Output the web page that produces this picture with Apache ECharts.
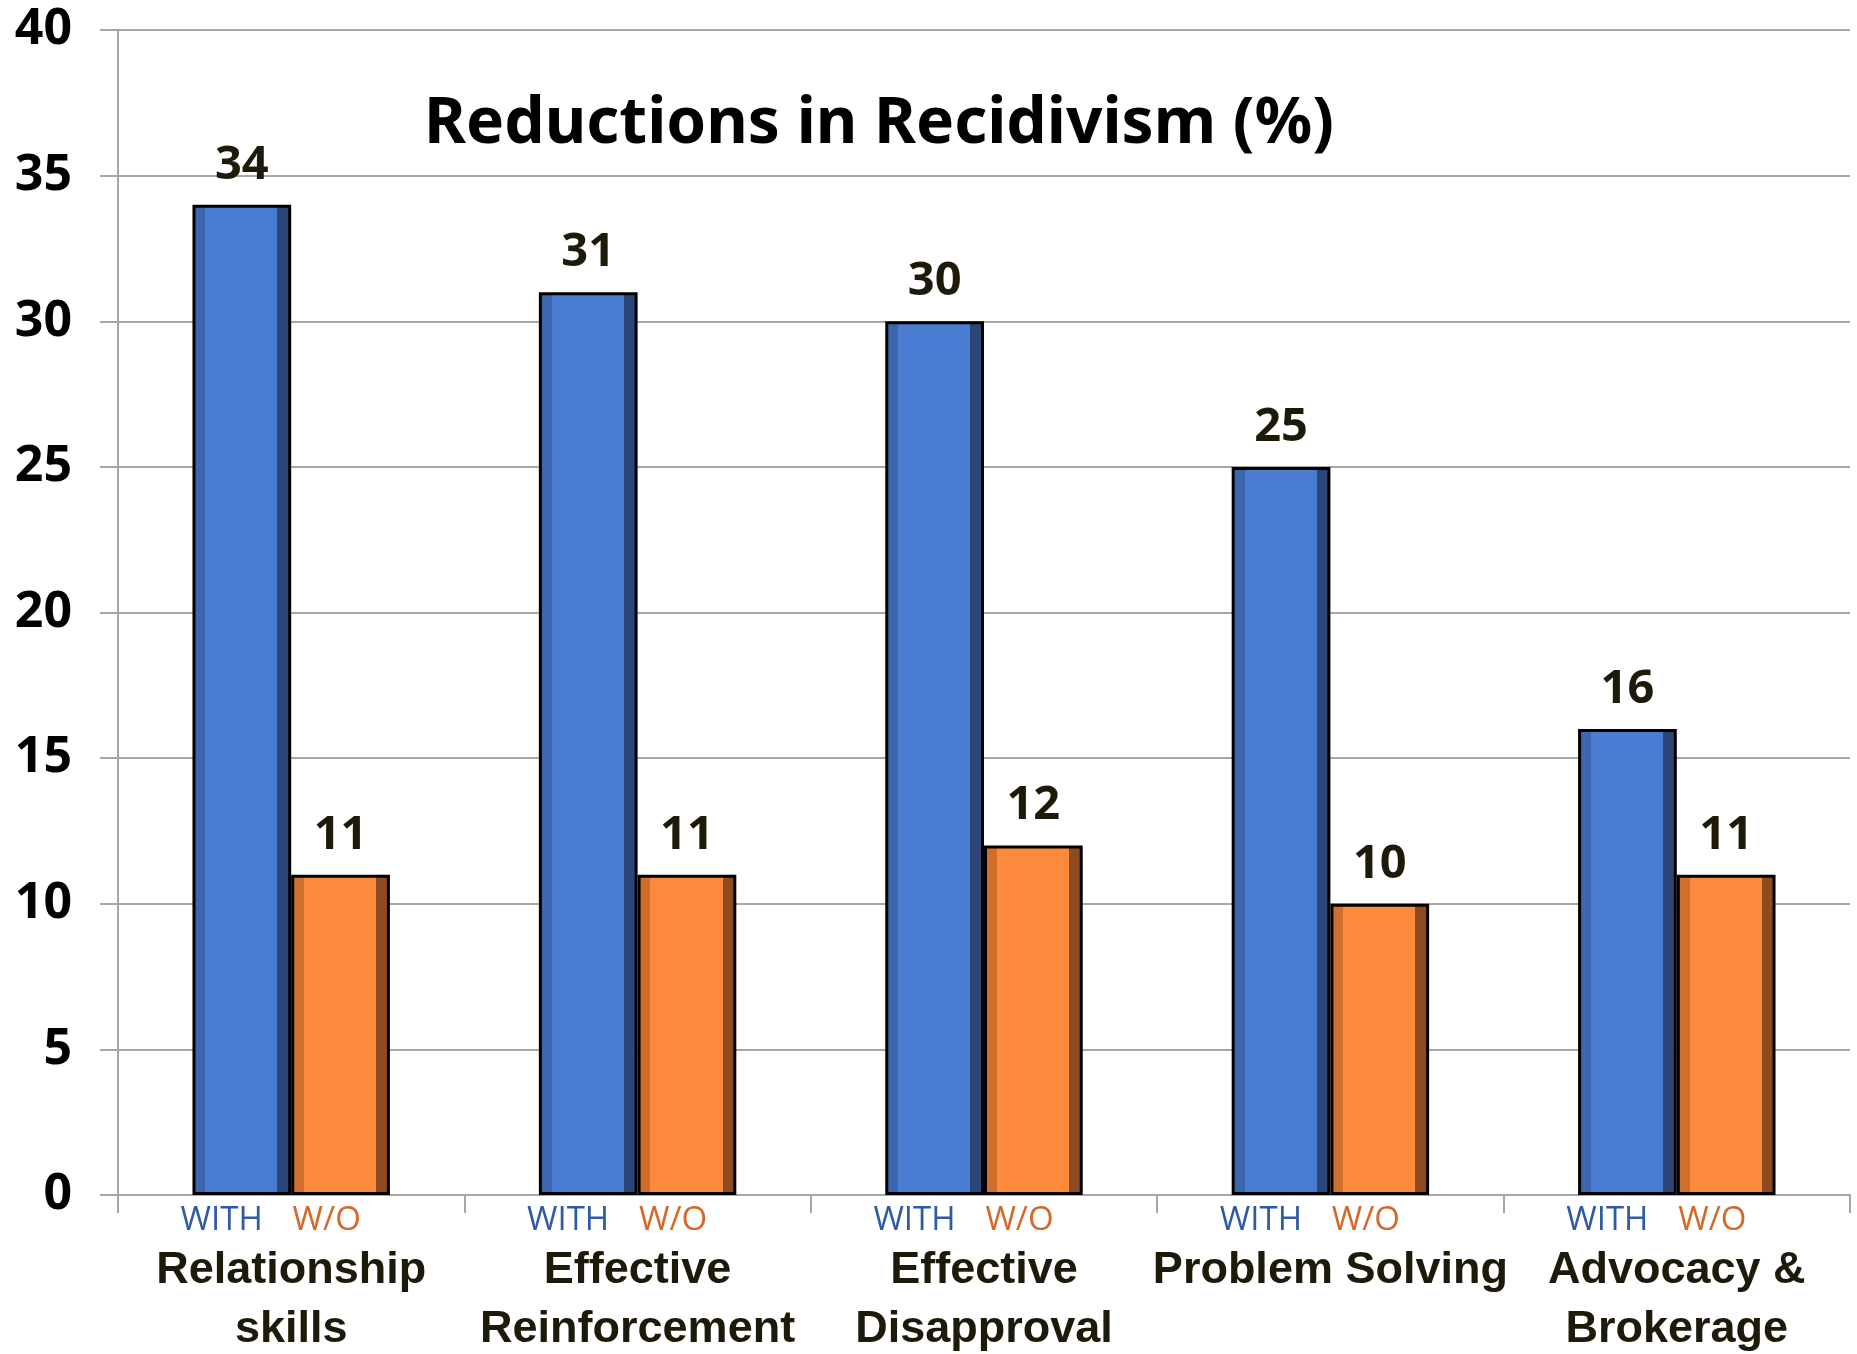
<!DOCTYPE html>
<html>
<head>
<meta charset="utf-8">
<script src="https://cdn.jsdelivr.net/npm/echarts@6/dist/echarts.min.js"></script>
<style>
html,body{margin:0;padding:0;background:#fff;}
#main{width:1857px;height:1354px;}
</style>
</head>
<body>
<div id="main"></div>
<script>
const categories = ['Relationship\nskills', 'Effective\nReinforcement', 'Effective\nDisapproval', 'Problem Solving', 'Advocacy &\nBrokerage'];
const withValues = [34, 31, 30, 25, 16];
const withoutValues = [11, 11, 12, 10, 11];
const seriesNames = ['WITH', 'W/O'];
const titleText = 'Reductions in Recidivism (%)';

function bevel(left, main, right) {
  return {
    type: 'linear', x: 0, y: 0, x2: 1, y2: 0,
    colorStops: [
      {offset: 0, color: left}, {offset: 0.13, color: left},
      {offset: 0.13, color: main}, {offset: 0.86, color: main},
      {offset: 0.86, color: right}, {offset: 1, color: right}
    ]
  };
}

const chart = echarts.init(document.getElementById('main'));
const valueLabel = {
  show: true, position: 'top', distance: 16,
  fontFamily: 'Noto Sans', fontWeight: 'bold', fontSize: 47, color: '#1e1a0a'
};
chart.setOption({
  animation: false,
  title: {
    text: titleText, left: 874, top: 88, textAlign: 'center',
    textStyle: {fontFamily: 'Noto Sans', fontWeight: 'bold', fontSize: 64, color: '#000'}
  },
  grid: {left: 118, right: 7, top: 30, bottom: 159, containLabel: false},
  xAxis: {
    type: 'category', data: categories,
    axisLine: {lineStyle: {color: '#a6a6a6', width: 2}},
    axisTick: {show: true, length: 18, lineStyle: {color: '#a6a6a6', width: 2}},
    axisLabel: {
      interval: 0, margin: 6,
      formatter: function (v) {
        const lines = v.split('\n').map(l => '{c|' + l + '}').join('\n');
        return '{w|' + seriesNames[0] + '}{o|' + seriesNames[1] + '}{sp|}\n' + lines;
      },
      rich: {
        w: {fontFamily: 'Open Sans', fontSize: 33, color: '#2f5ba6', width: 105, align: 'center', lineHeight: 40},
        o: {fontFamily: 'Open Sans', fontSize: 33, color: '#d5682a', width: 105, align: 'center', lineHeight: 40},
        sp: {width: 34, lineHeight: 40},
        c: {fontFamily: 'Liberation Sans', fontWeight: 'bold', fontSize: 45, color: '#1e1a0a', lineHeight: 59}
      }
    }
  },
  yAxis: {
    type: 'value', min: 0, max: 40, interval: 5,
    axisLine: {show: true, lineStyle: {color: '#a6a6a6', width: 2}},
    axisTick: {show: true, length: 18, lineStyle: {color: '#a6a6a6', width: 2}},
    splitLine: {lineStyle: {color: '#a6a6a6', width: 2}},
    axisLabel: {margin: 46, fontFamily: 'Noto Sans', fontWeight: 'bold', fontSize: 50, color: '#000'}
  },
  series: [
    {
      name: seriesNames[0], type: 'bar', data: withValues,
      barGap: '0%', barCategoryGap: '43%',
      itemStyle: {color: bevel('#3d66ae', '#4a7dd2', '#2c4777'), borderColor: '#000', borderWidth: 3},
      label: valueLabel
    },
    {
      name: seriesNames[1], type: 'bar', data: withoutValues,
      itemStyle: {color: bevel('#d06e2c', '#fc8a3d', '#8f4b1f'), borderColor: '#000', borderWidth: 3},
      label: valueLabel
    }
  ]
});
</script>
</body>
</html>
